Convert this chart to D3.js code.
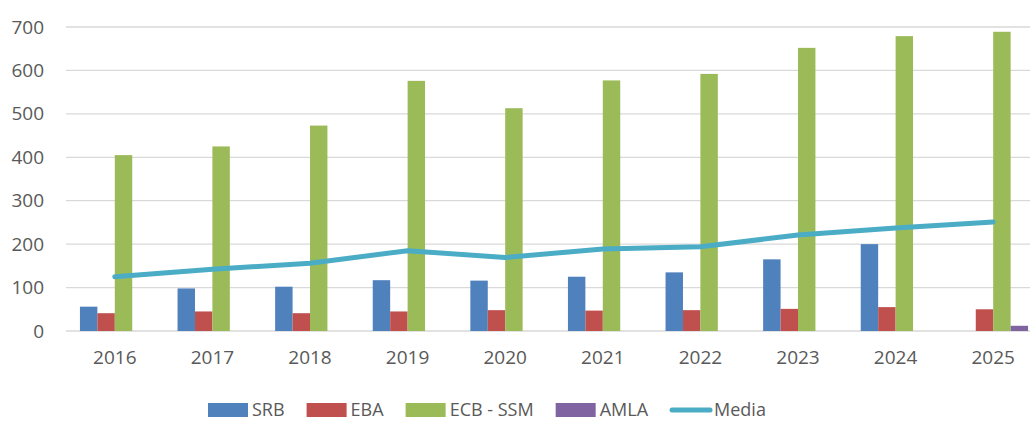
<!DOCTYPE html>
<html>
<head>
<meta charset="utf-8">
<script src="https://cdn.jsdelivr.net/npm/d3@7"></script>
<style>
  body { margin: 0; background: #fff; }
  text { font-family: "Open Sans", "Liberation Sans", sans-serif; fill: #595959; }
</style>
</head>
<body>
<svg width="1030" height="421"></svg>
<script>
var years = ["2016","2017","2018","2019","2020","2021","2022","2023","2024","2025"];
var srb   = [56, 98, 102, 117, 116, 125, 135, 165, 200, null];
var eba   = [41, 45, 41, 45, 48, 47, 48, 51, 55, 50];
var ecb   = [405, 425, 473, 576, 513, 577, 592, 652, 679, 689];
var amla  = [null, null, null, null, null, null, null, null, null, 12];
var media = [125, 142, 156, 185, 169, 189, 194, 221, 237, 251];
var yTicks = [0, 100, 200, 300, 400, 500, 600, 700];

var seriesNames = ["SRB", "EBA", "ECB - SSM", "AMLA"];
var seriesVals = [srb, eba, ecb, amla];

var color = d3.scaleOrdinal()
  .domain(["SRB", "EBA", "ECB - SSM", "AMLA", "Media"])
  .range(["#4f81bd", "#c0504d", "#9bbb59", "#8064a2", "#4bacc6"]);

var svg = d3.select("svg");
var plotLeft = 66, plotRight = 1042, plotTop = 27, plotBottom = 331;

var x0 = d3.scaleBand().domain(years).range([plotLeft, plotRight]).padding(0);
var bw = x0.bandwidth();
var gap = bw * 1.6 / 5.6 / 2;
var x1 = d3.scaleBand().domain(seriesNames).range([gap, bw - gap]).padding(0);
var y = d3.scaleLinear().domain([0, 700]).range([plotBottom, plotTop]);

// grille
svg.append("g")
  .selectAll("line")
  .data(yTicks)
  .enter().append("line")
    .attr("x1", plotLeft).attr("x2", 1030)
    .attr("y1", function(d) { return y(d); })
    .attr("y2", function(d) { return y(d); })
    .style("stroke", "#d9d9d9")
    .style("stroke-width", 1.3);

// axe Y
var yAxis = svg.append("g")
  .attr("transform", "translate(44,0)")
  .call(d3.axisLeft(y).tickValues(yTicks).tickSize(0).tickPadding(0));
yAxis.select(".domain").remove();
yAxis.selectAll("text").style("font-size", "19px").style("fill", "#595959").style("font-family", "Open Sans");

// axe X
var xAxis = svg.append("g")
  .attr("transform", "translate(0," + plotBottom + ")")
  .call(d3.axisBottom(x0).tickSize(0).tickPadding(20));
xAxis.select(".domain").remove();
xAxis.selectAll("text").style("font-size", "19px").style("fill", "#595959").style("font-family", "Open Sans");

// barres
var groups = svg.append("g")
  .selectAll("g")
  .data(years)
  .enter().append("g")
    .attr("transform", function(d) { return "translate(" + x0(d) + ",0)"; });

groups.selectAll("rect")
  .data(function(d, i) {
    return seriesNames.map(function(s, k) { return {key: s, value: seriesVals[k][i]}; })
      .filter(function(e) { return e.value != null; });
  })
  .enter().append("rect")
    .attr("x", function(d) { return x1(d.key); })
    .attr("width", x1.bandwidth())
    .attr("y", function(d) { return y(d.value); })
    .attr("height", function(d) { return y(0) - y(d.value); })
    .style("fill", function(d) { return color(d.key); });

// ligne Media
var line = d3.line()
  .x(function(d, i) { return x0(years[i]) + bw / 2; })
  .y(function(d) { return y(d); });

svg.append("path")
  .datum(media)
  .attr("d", line)
  .style("fill", "none")
  .style("stroke", color("Media"))
  .style("stroke-width", 5)
  .style("stroke-linejoin", "round")
  .style("stroke-linecap", "round");

// légende
var legendItems = ["SRB", "EBA", "ECB - SSM", "AMLA", "Media"];
var legend = svg.append("g").attr("transform", "translate(208,410)");
var lx = 0;
legendItems.forEach(function(name) {
  var item = legend.append("g").attr("transform", "translate(" + lx + ",0)");
  if (name == "Media") {
    item.append("line")
      .attr("x1", 2).attr("x2", 40).attr("y1", 0).attr("y2", 0)
      .style("stroke", color(name)).style("stroke-width", 5).style("stroke-linecap", "round");
  } else {
    item.append("rect")
      .attr("x", 0).attr("y", -7).attr("width", 40).attr("height", 14)
      .style("fill", color(name));
  }
  var t = item.append("text")
    .attr("x", 44).attr("dy", "0.35em")
    .style("font-size", "18px")
    .text(name);
  lx += 44 + t.node().getComputedTextLength() + 22;
});
</script>
</body>
</html>
